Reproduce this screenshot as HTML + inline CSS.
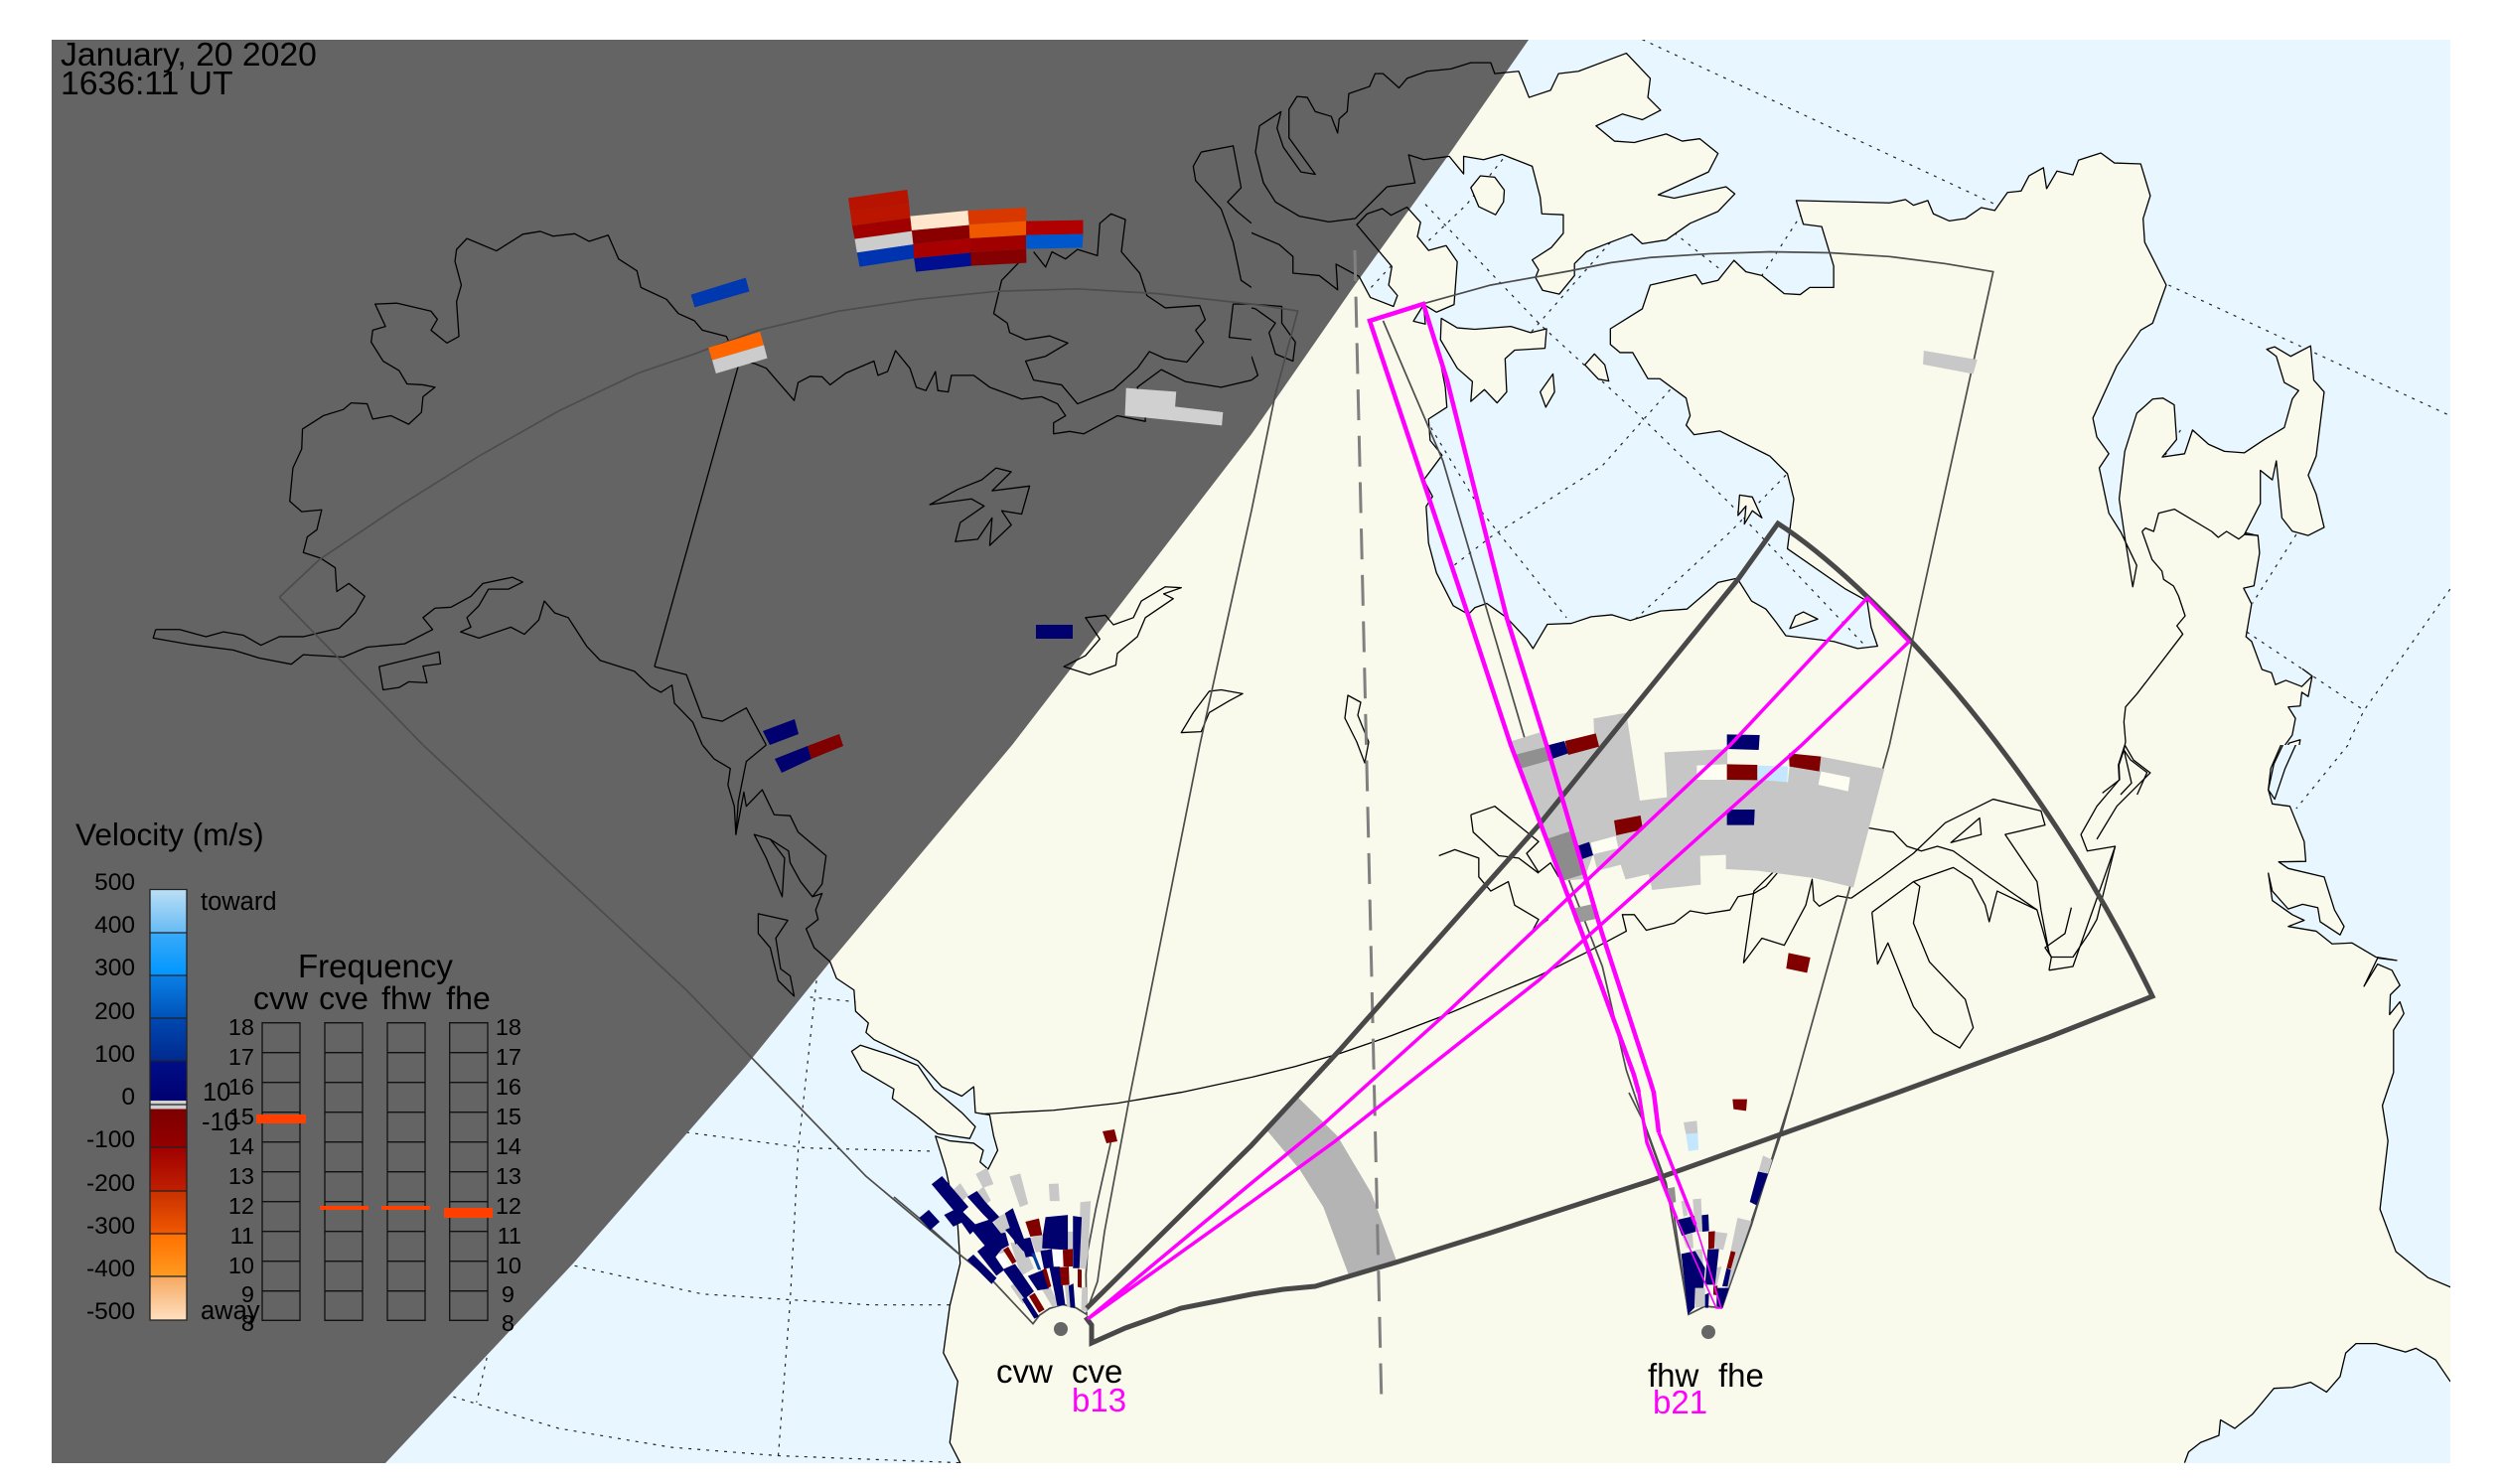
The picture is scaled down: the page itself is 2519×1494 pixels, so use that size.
<!DOCTYPE html>
<html><head><meta charset="utf-8"><title>SuperDARN map</title>
<style>
html,body{margin:0;padding:0;background:#fff}
svg{display:block}
polygon,polyline,path,line,rect{vector-effect:non-scaling-stroke}
text{font-family:"Liberation Sans",sans-serif}
.dot{fill:none;stroke:#222;stroke-width:1.2;stroke-dasharray:3 6}
.fov{fill:none;stroke:#4c4c4c;stroke-width:1.7}
.thin{fill:none;stroke:#000;stroke-width:1.3;stroke-linejoin:round}
.s{stroke:none}
</style></head><body>
<svg xmlns="http://www.w3.org/2000/svg" width="2519" height="1494" viewBox="0 0 2519 1494">
<defs>
<clipPath id="c1"><rect x="52" y="40" width="1208" height="710"/></clipPath>
<clipPath id="c2"><rect x="1260" y="40" width="1207" height="710"/></clipPath>
<clipPath id="c3"><rect x="52" y="750" width="1208" height="723"/></clipPath>
<clipPath id="c4"><rect x="1260" y="750" width="1207" height="723"/></clipPath>
<linearGradient id="g1" x1="0" y1="0" x2="0" y2="1"><stop offset="0" stop-color="#bcdff5"/><stop offset="1" stop-color="#66bbf5"/></linearGradient>
<linearGradient id="g2" x1="0" y1="0" x2="0" y2="1"><stop offset="0" stop-color="#3aaaf8"/><stop offset="1" stop-color="#0096ff"/></linearGradient>
<linearGradient id="g3" x1="0" y1="0" x2="0" y2="1"><stop offset="0" stop-color="#0a80e8"/><stop offset="1" stop-color="#0052b8"/></linearGradient>
<linearGradient id="g4" x1="0" y1="0" x2="0" y2="1"><stop offset="0" stop-color="#0048b0"/><stop offset="1" stop-color="#002a90"/></linearGradient>
<linearGradient id="g5" x1="0" y1="0" x2="0" y2="1"><stop offset="0" stop-color="#000f88"/><stop offset="1" stop-color="#000070"/></linearGradient>
<linearGradient id="g6" x1="0" y1="0" x2="0" y2="1"><stop offset="0" stop-color="#7c0000"/><stop offset="1" stop-color="#950000"/></linearGradient>
<linearGradient id="g7" x1="0" y1="0" x2="0" y2="1"><stop offset="0" stop-color="#a00000"/><stop offset="1" stop-color="#c02000"/></linearGradient>
<linearGradient id="g8" x1="0" y1="0" x2="0" y2="1"><stop offset="0" stop-color="#c83000"/><stop offset="1" stop-color="#f05800"/></linearGradient>
<linearGradient id="g9" x1="0" y1="0" x2="0" y2="1"><stop offset="0" stop-color="#ff7000"/><stop offset="1" stop-color="#ff9a20"/></linearGradient>
<linearGradient id="g10" x1="0" y1="0" x2="0" y2="1"><stop offset="0" stop-color="#f5a860"/><stop offset="1" stop-color="#ffe0c0"/></linearGradient>

<g id="q2land">
<polyline points="135,582 149,626 178,645 183,622 172,600 176,561 132,473 145,450 164,439 175,453 195,436 212,468 208,498 222,527 244,517 258,551 254,641 232,657 216,641 203,676 218,682 216,645 237,763 243,815 245,857 222,882 224,927 239,958 228,983 216,1010 227,1045 219,1066 222,1143 232,1206 253,1275 272,1293 280,1279 295,1270 320,1300 345,1345 353,1365 371,1314 401,1312 426,1298 452,1294 475,1306 513,1286 546,1282 585,1226 609,1217 627,1265 645,1282 658,1310 670,1338 730,1350 760,1365 785,1360 777,1320 772,1265 745,1240 672,1155 680,1050 672,997 650,960 587,907 555,915 545,895 550,875 545,838 512,797 497,797 478,742 462,742 450,725 450,692 490,650 500,600 557,578 565,598 585,590 605,548 620,572 640,580 668,618 688,620 700,605 730,605 730,560 715,477 692,472 683,422 800,427 820,420 830,432 848,422 855,450 875,465 895,460 915,437 932,443 948,405 965,402 975,370 993,353 997,397 1010,360 1030,368 1037,337 1065,322 1082,343 1115,345 1127,412 1118,460 1120,510 1147,600 1130,680 1115,695 1085,770 1055,880 1060,920 1075,955 1063,985 1075,1080 1090,1120 1110,1190 1105,1235 1095,1130 1088,1050 1095,950 1110,870 1130,840 1143,838 1157,852 1160,925 1142,962 1170,955 1180,905 1200,935 1220,950 1245,953 1270,925 1295,900 1305,840 1313,822 1295,805 1285,750 1273,735 1283,730 1303,750 1328,728 1332,800 1345,825 1335,960 1325,1000 1335,1040 1345,1110 1325,1127 1305,1118 1292,1090 1285,970 1280,1010 1265,990 1265,1060 1245,1125 1262,1127 1264,1164 1257,1233 1244,1238 1254,1271 1247,1340 1254,1350 1267,1409 1279,1416 1284,1441 1297,1432 1317,1445 1330,1423 1318,1408 1330,1423 1325,1466 1317,1457 1315,1486 1300,1488 1309,1512 1305,1547 1296,1568 1290,1700 -100,1700 -100,600"/>
<polygon points="335,150 348,205 375,190 385,155 410,150 470,112 500,165 497,205 513,232 490,252 465,240 432,265 455,297 480,300 520,282 540,297 562,292 585,323 573,362 510,410 530,417 595,393 606,408 585,445 550,470 520,505 490,513 477,493 450,510 420,530 405,555 405,580 386,619 365,611 356,584 360,568 352,547 376,521 391,491 391,452 364,450 362,415 352,350 314,325 291,336 266,329 266,366 248,329 216,336 197,326 205,385 170,393 130,460 97,467 60,455 30,425 15,385 5,320 10,265 37,235 32,270 40,310 62,362 80,367 47,290 47,230 57,203 70,205 80,235 100,245 108,280 110,250 120,235 122,197 148,182 155,155 165,155 185,185 195,165 220,150 250,145 275,132 300,132 305,155"/>
<polygon points="275,395 287,370 305,373 317,400 316,425 306,452 285,435"/>
<polygon points="238,670 258,690 280,693 325,687 350,700 370,692 368,733 330,737 318,755 320,825 308,848 292,820 275,845 277,803 258,775 237,715"/>
<polygon points="418,768 430,745 443,768 448,802 435,798"/>
<polygon points="362,825 378,787 380,825 369,857"/>
<polygon points="612,1042 628,1046 640,1090 628,1075 618,1103 620,1065 610,1085"/>
<polygon points="675,1323 682,1296 692,1288 710,1303"/>
<polygon points="1315,1557 1301,1564 1290,1600 1280,1700 1300,1700"/>
</g>
<g id="q4ocean">
<polyline points="1296,-20 1278,50 1275,95 1280,125 1302,130 1320,205 1322,247 1288,248 1300,262 1345,280 1358,350 1370,385 1365,403 1340,375 1337,345 1318,338 1300,348 1280,310 1275,272 1280,330 1305,360 1320,372 1300,385 1335,395 1355,422 1380,420 1410,450 1436,457 1412,452 1395,512 1412,465 1430,478 1440,510 1428,530 1427,572 1440,545 1445,570 1432,605 1432,695 1418,765 1425,840 1415,985 1435,1075 1475,1130 1503,1150 1650,1150 1650,-20"/>
<polyline points="1170,1523 1175,1500 1190,1480 1213,1465 1215,1432 1233,1450 1255,1420 1282,1365 1305,1363 1328,1352 1348,1373 1365,1340 1372,1290 1385,1270 1410,1270 1447,1288 1460,1280 1485,1305 1503,1350 1650,1350 1650,1650 1170,1650"/>
</g>
<g id="q3ocean">
<polyline points="1040,460 1048,495 1070,520 1072,565 1088,590 1085,610 1095,625 1150,670 1180,725 1205,745 1220,725 1222,780 1240,785 1245,830 1250,860 1238,900 1228,885 1232,860 1220,845 1190,840 1172,830 1185,900 1200,1020 1203,1100 1190,1190 1182,1290 1200,1350 1190,1480 1203,1523 1205,1700 -100,1700 -100,1000"/>
</g>
<polygon id="q3isl" points="1067,650 1078,637 1120,660 1150,680 1170,730 1205,780 1222,810 1215,835 1175,825 1150,790 1118,750 1120,730 1080,690"/>
</defs>

<rect x="52" y="40" width="2415" height="1433" fill="#f9faeb"/>

<!-- fills and dotted graticule -->
<g clip-path="url(#c2)"><rect x="1260" y="40" width="1207" height="710" fill="#e8f6ff"/>
<g transform="translate(1260,0) scale(.80293,.47832)">
<polyline class="dot" points="490,83 935,432"/>
<polyline class="dot" points="1150,600 1503,875"/>
<polyline class="dot" points="315,335 270,430 220,510"/>
<polyline class="dot" points="218,430 360,680 490,880 600,1060 770,1360"/>
<polyline class="dot" points="225,900 290,1080 395,1300"/>
<polyline class="dot" points="530,490 590,570"/>
<polyline class="dot" points="690,450 640,580"/>
<polyline class="dot" points="450,510 350,700"/>
<polyline class="dot" points="525,820 440,980 300,1130 250,1195"/>
<polyline class="dot" points="670,1000 600,1120 480,1305"/>
<polyline class="dot" points="1310,1125 1255,1270"/>
<polyline class="dot" points="1248,1330 1395,1495"/>
<polyline class="dot" points="1503,1240 1395,1495 1375,1565"/>
<polyline class="dot" points="1165,905 1145,960"/>
<polyline class="dot" points="150,605 175,560"/>
<use href="#q2land" fill="#f9faeb" stroke="none"/></g></g>
<g clip-path="url(#c4)"><g transform="translate(1260,750) scale(.80293,.47449)"><use href="#q4ocean" fill="#e8f6ff" stroke="none"/>
<polyline class="dot" points="1375,0 1310,135"/></g></g>
<g clip-path="url(#c3)"><g transform="translate(0,750) scale(.80357,.47449)"><use href="#q3ocean" fill="#e8f6ff" stroke="none"/><use href="#q3isl" fill="#f9faeb" stroke="none"/>
<polyline class="dot" points="1015,535 1072,545"/>
<polyline class="dot" points="1023,500 1000,860 990,1180 975,1510"/>
<polyline class="dot" points="860,822 1010,855 1170,862"/>
<polyline class="dot" points="720,1105 880,1165 1090,1188 1195,1188"/>
<polyline class="dot" points="568,1383 700,1450 840,1490 975,1508 1203,1523"/>
<polyline class="dot" points="610,1300 597,1395"/>
</g></g>

<!-- night -->
<polygon fill="#646464" points="52,40 1539,40 1457,158 1364,287 1260,437 1019,750 836,968 751,1073 577,1272 388,1473 52,1473"/>

<!-- coast strokes -->
<g clip-path="url(#c2)"><g transform="translate(1260,0) scale(.80293,.47832)">
<use href="#q2land" class="thin"/>
<polyline class="thin" points="0,490 35,515 52,540 52,575 85,580 108,610 106,556 135,582"/>
<polyline class="thin" points="0,640 38,645 38,680 55,720 52,760 30,745 22,700 30,680 5,650 0,648"/>
<polyline class="thin" points="0,750 8,790 0,800"/>
</g></g>
<g clip-path="url(#c1)"><g transform="scale(.80357,.47832)">
<polyline class="thin" points="195,1325 192,1343 240,1357 292,1368 325,1385 365,1398 380,1378 430,1383 460,1362 507,1355 542,1325 530,1300 545,1280 565,1278 590,1255 605,1228 642,1215 655,1225 637,1240 612,1240 600,1275 585,1300 590,1320 577,1330 600,1343 640,1320 657,1335 675,1305 682,1265 695,1290 712,1300 735,1360 752,1390 795,1413 815,1445 828,1457 842,1442 845,1480 868,1520 880,1568"/>
<polyline class="thin" points="195,1325 225,1325 258,1340 280,1330 305,1337 327,1358 350,1340 380,1340 425,1322 445,1290 457,1255 437,1228 422,1245 420,1195 402,1175 380,1163 385,1130 397,1115 403,1073 378,1077 363,1055 367,985 378,945 379,903 405,875 430,862 440,848 460,850 467,882 490,875 512,893 528,868 530,835 545,815 530,810 510,808 500,780 480,760 465,720 467,695 483,687 470,640 497,638 540,655 548,672 540,695 560,722 575,708 572,635 578,600 570,550 572,525 585,502 622,528 655,493 677,487 693,497 720,492 738,508 762,495 775,545 798,570 803,605 835,630 850,660 870,675 880,695 910,708 925,760 945,765 960,775 995,843 1000,805 1015,792 1030,793 1040,810 1060,785 1095,760 1100,790 1112,782 1122,738 1140,775 1148,815 1160,822 1172,782 1175,822 1188,825 1192,790 1220,790 1240,815 1280,840 1305,835 1325,850 1335,875 1320,890 1320,913 1340,908 1358,913 1400,875 1435,887 1435,870 1425,815 1455,778 1485,803 1530,815 1568,800"/>
<polyline class="thin" points="1278,550 1255,590 1245,660 1262,680 1265,700 1285,715 1315,707 1338,722 1310,750 1285,760 1295,800 1330,810 1350,850 1395,820 1425,775 1440,740 1460,755 1487,762 1508,720 1498,695 1510,673 1503,643 1460,648 1437,622 1428,575 1405,530 1410,462 1392,450 1378,470 1375,538 1350,525 1335,545 1318,530 1310,562 1295,530"/>
<polyline class="thin" points="1505,320 1495,350 1498,380 1530,440 1545,510 1555,590 1568,605"/>
<polyline class="thin" points="1505,320 1545,307 1555,395 1538,425 1550,445 1568,470"/>
<polyline class="thin" points="1568,640 1545,640 1540,710 1568,715"/>
<polygon class="thin" points="1165,1062 1200,1030 1230,1010 1248,985 1267,993 1243,1033 1290,1023 1280,1082 1255,1075 1267,1105 1240,1148 1243,1090 1225,1135 1197,1140 1203,1100 1233,1065 1217,1050"/>
<polygon class="thin" points="1360,1300 1385,1295 1395,1315 1420,1300 1430,1265 1460,1235 1480,1237 1458,1250 1470,1260 1435,1300 1425,1340 1400,1375 1398,1400 1365,1420 1333,1403 1360,1380 1378,1345"/>
<polygon class="thin" points="1515,1455 1530,1452 1557,1460 1540,1475 1515,1500 1505,1540 1480,1542 1495,1500"/>
<polygon class="thin" points="475,1403 550,1372 552,1397 530,1402 535,1437 512,1435 500,1447 480,1452"/>
<polyline class="thin" points="820,1403 860,1420 880,1510 905,1518 935,1490 960,1568"/>
<polyline class="thin" points="925,770 820,1403"/>
</g></g>
<polygon class="thin" points="1357,700 1370,707 1367,720 1378,747 1374,768 1366,747 1354,723"/>
<g transform="translate(2060,400) scale(.33333)">
<polyline class="thin" points="290,405 300,395 325,405 340,350 388,338 500,405 520,423 545,405 582,428 605,410 640,418"/>
<polyline class="thin" points="290,405 320,490 350,525 355,550 385,570 400,600 410,630 420,660 395,690 413,715 275,895 240,935 235,980 240,1040 235,1065"/>
<polyline class="thin" points="235,1065 220,1110 222,1155 170,1195"/>
<polyline class="thin" points="235,1065 255,1095 305,1133 275,1200"/>
<polyline class="thin" points="235,1065 258,1165 225,1200"/>
</g>
<g clip-path="url(#c3)"><g transform="translate(0,750) scale(.80357,.47449)">
<use href="#q3ocean" class="thin"/>
<use href="#q3isl" class="thin"/>
<polyline class="thin" points="880,0 895,30 915,50 912,85 920,130 922,190 932,100 935,130 955,95 970,148 990,150 1000,185 1035,235 1030,295 1018,322 1030,315 1022,350 1025,370 1010,390 1020,430 1040,460"/>
<polyline class="thin" points="965,200 988,225 990,250 1003,290 1018,322"/>
<polyline class="thin" points="965,200 945,190 960,240 980,322 983,240 965,200"/>
<polyline class="thin" points="960,0 935,35 925,120 922,190"/>
<polygon class="thin" points="950,358 987,372 972,410 978,475 990,490 995,533 975,500 965,430 950,400"/>
<polyline class="thin" points="1230,783 1320,775 1400,760 1480,737 1568,705"/>
</g></g>
<g clip-path="url(#c4)"><g transform="translate(1260,750) scale(.80293,.47449)">
<use href="#q4ocean" class="thin"/>
<polygon class="thin" points="1312,-10 1296,50 1283,115 1275,95 1282,40 1296,-10"/>
<polyline class="thin" points="0,705 55,682 110,655 175,617 240,575 300,532 360,490 420,440 470,395 465,360 480,360 495,393 530,378 550,352 570,358 600,350 610,322 630,315 645,300 660,270 650,250"/>
<polyline class="thin" points="660,260 630,310 617,462 640,410 668,425 695,340 703,285 705,330 712,342 735,320 752,325"/>
<polyline class="thin" points="275,148 305,130 360,205 345,230 360,270 375,250 385,280"/>
<polyline class="thin" points="275,148 278,185 310,235 335,240 360,272"/>
<polyline class="thin" points="235,235 255,222 285,240 285,280 300,310 322,290 330,340 360,370 352,395 372,370"/>
<polyline class="thin" points="770,175 805,185 822,215 840,225 860,215 880,225 925,280 985,350 1000,440"/>
<polyline class="thin" points="752,325 790,280 830,230 870,165 930,115 990,140 995,170 945,190 985,290 990,350 1000,440 1003,450 1030,450 1050,400 1060,370 1083,215 1048,225 1040,190 1060,130 1088,74 1087,42 1095,0"/>
<polyline class="thin" points="778,355 830,290 880,260 903,285 920,340 925,375 935,310 985,350"/>
<polyline class="thin" points="778,355 785,465 798,420 830,555 855,610 888,643 905,600 895,540 850,460 830,378 838,300 830,290"/>
<polygon class="thin" points="877,207 913,155 915,190"/>
<polyline class="thin" points="1095,0 1106,32 1127,59 1085,130 1060,200"/>
<polyline class="thin" points="1000,478 1030,470 1083,215"/>
<polyline class="thin" points="1000,478 1003,450"/>
<polyline class="thin" points="1028,345 1020,400 995,430 1003,450"/>
</g></g>

<!-- main FOV thin lines -->
<g clip-path="url(#c1)"><g transform="scale(.80357,.47832)"><polyline class="fov" points="350,1257 400,1178 500,1065 600,960 700,865 800,785 870,745 950,695 1050,655 1150,630 1250,613 1350,608 1450,618 1568,640"/><polyline class="fov" points="350,1257 530,1568"/></g></g>
<polyline class="fov" points="1260,306 1306.6,313 1284,397 1260,514 1208,750 1137,1106 1112,1240 1105,1290 1094,1320"/>
<g clip-path="url(#c3)"><g transform="translate(0,750) scale(.80357,.47449)"><polyline class="fov" points="530,0 860,520 1085,915 1205,1085"/></g></g>
<g clip-path="url(#c2)"><g transform="translate(1260,0) scale(.80293,.47832)">
<polyline class="fov" points="218,638 300,600 400,570 450,553 500,542 575,534 650,530 725,532 800,540 870,555 930,572 800,1568"/>
<polyline class="fov" points="165,675 240,970 345,1568"/>
<polygon fill="#c8c8c8" points="843,738 910,757 905,787 842,767"/>
</g></g>
<g clip-path="url(#c4)"><g transform="translate(1260,750) scale(.80293,.47449)">
<polyline class="fov" points="800,0 665,820 590,1195"/>
<polyline class="fov" points="350,0 385,230 440,470 470,690 490,790 520,930 548,1205"/>
</g></g>

<!-- data blocks on night side -->
<g transform="translate(660,170) scale(.38265,.33333)">
<polygon fill="#b81200" points="507,88 662,63 667,105 512,128"/>
<polygon fill="#bb1500" points="512,128 667,105 670,148 517,172"/>
<polygon fill="#a00000" points="517,172 670,148 675,188 524,212"/>
<polygon fill="#cccccc" points="524,212 675,188 680,228 530,253"/>
<polygon fill="#0033b0" points="530,253 680,228 682,270 537,296"/>
<polygon fill="#ffe6cc" points="670,143 822,126 825,170 674,186"/>
<polygon fill="#8a0000" points="674,186 825,170 827,210 678,228"/>
<polygon fill="#a80000" points="678,228 827,210 830,253 680,270"/>
<polygon fill="#000f90" points="680,270 830,253 832,293 685,311"/>
<polygon fill="#d83800" points="822,126 975,117 975,158 825,168"/>
<polygon fill="#f05800" points="825,168 975,158 975,200 827,210"/>
<polygon fill="#a00000" points="827,210 975,200 975,242 829,252"/>
<polygon fill="#850000" points="829,252 975,242 976,284 830,293"/>
<polygon fill="#b00000" points="975,158 1125,155 1125,197 975,200"/>
<polygon fill="#0057cc" points="975,200 1125,197 1123,238 975,242"/>
<polygon fill="#0038b0" points="93,380 237,329 247,370 103,418"/>
<polygon fill="#ff6600" points="139,540 275,492 285,532 149,578"/>
<polygon fill="#cccccc" points="149,578 285,532 294,572 159,618"/>
<polygon fill="#d0d0d0" points="1238,662 1370,673 1367,718 1493,735 1490,775 1235,745"/>
</g>
<polygon fill="#00006e" points="1043,629 1080,629 1080,643 1043,643"/>
<polygon fill="#00006e" points="768,736 800,724 804,739 775,750"/>
<polygon fill="#00006e" points="780,764 813,751 817,764 787,778"/>
<polygon fill="#800000" points="813,751 845,739 849,751 817,764"/>

<!-- cv fan -->
<g transform="translate(900,1150) scale(.33333)">
<polyline class="fov" points="0,165 80,232 200,340 300,420 420,548 440,522 470,502 510,490 550,500 582,520 580,400 585,330 610,200 655,0"/>
<g fill="#c8c8c8" stroke="#c8c8c8" stroke-width="1.5">
<polygon points="250,97 280,80 298,125 270,135"/><polygon points="352,105 380,97 403,185 382,193"/><polygon points="470,128 495,127 498,175 473,175"/><polygon points="565,183 592,180 585,330 562,330"/><polygon points="175,150 200,127 222,160 200,180"/><polygon points="248,155 270,137 290,175 270,190"/><polygon points="300,235 340,215 355,260 325,275"/><polygon points="415,290 450,280 458,325 430,330"/><polygon points="523,272 545,272 545,322 525,322"/><polygon points="560,330 585,330 578,380 560,378"/><polygon points="355,305 390,310 420,380 385,400"/><polygon points="295,300 315,290 335,330 320,335"/><polygon points="355,435 368,425 405,480 390,485"/><polygon points="570,440 580,440 582,510 568,505"/><polygon points="450,445 470,437 495,492 480,495"/><polygon points="518,432 530,432 535,495 525,495"/>
</g>
<polygon fill="#fff" points="478,325 510,325 512,373 480,373"/>
<polygon fill="#fff" points="300,345 325,335 350,375 330,395"/>
<g fill="#00006e" stroke="#00006e" stroke-width="1.5">
<polygon points="117,127 145,105 222,195 195,220"/><polygon points="155,220 195,200 250,255 230,275 205,240 180,252"/><polygon points="80,228 105,207 135,240 110,262"/><polygon points="225,165 250,150 275,182 315,225 295,240 270,215"/><polygon points="230,255 290,235 340,300 305,345 255,285"/><polygon points="255,330 280,310 330,385 310,400"/><polygon points="225,355 240,342 307,410 295,425"/><polygon points="338,215 358,202 390,290 368,305"/><polygon points="340,265 365,255 420,345 390,325"/><polygon points="460,228 523,222 523,323 450,318 452,280"/><polygon points="543,225 565,228 558,378 543,378"/><polygon points="445,330 475,325 480,375 455,380"/><polygon points="332,385 365,370 420,450 395,470"/><polygon points="408,405 450,388 465,440 435,445"/><polygon points="390,475 400,470 435,525 425,530"/><polygon points="385,295 410,290 425,340 400,345"/><polygon points="472,378 500,378 515,490 495,492"/><polygon points="530,435 540,430 545,497 535,497"/><polygon points="310,280 335,275 345,310 325,320"/>
</g>
<polygon fill="#0040a0" points="415,335 425,335 445,385 435,385"/>
<g fill="#800000">
<polygon points="397,240 438,230 448,280 412,285"/><polygon points="510,325 540,322 540,375 512,375"/><polygon points="500,378 528,375 530,430 505,432"/><polygon points="555,382 567,385 567,440 555,437"/><polygon points="448,385 460,380 475,435 465,440"/><polygon points="330,325 345,315 370,360 358,368"/><polygon points="408,465 425,455 455,505 438,515"/>
</g>
</g>
<polygon fill="#800000" points="1110,1139 1122,1137 1125,1149 1114,1151"/>

<!-- grey patch -->
<g transform="translate(1480,680) scale(.33333)">
<polygon fill="#c6c6c6" points="120,200 218,170 240,215 375,180 373,130 472,113 513,378 595,368 587,232 778,222 776,315 870,310 960,322 965,275 1060,245 1252,282 1158,640 1040,612 870,590 773,585 773,542 695,545 697,632 550,648 540,600 470,616 455,572 385,590 372,540 345,615 280,620 225,495 145,280"/>
<polygon fill="#fdfdf2" points="685,272 776,268 776,315 685,315"/>
<polygon fill="#fdfdf2" points="1060,290 1148,308 1142,350 1052,330"/>
<polygon fill="#fdfdf2" points="365,505 440,485 448,522 372,540"/>
<polygon fill="#909090" points="135,240 232,215 245,255 150,282"/>
<polygon fill="#8c8c8c" points="228,495 305,470 345,600 280,620"/>
<polygon fill="#999" points="305,705 372,690 382,735 318,748"/>
<g fill="#00006e"><polygon points="232,212 285,198 297,235 245,253"/><polygon points="325,515 360,503 372,543 338,555"/><polygon points="776,178 875,180 872,225 776,222"/><polygon points="776,405 860,405 858,452 776,452"/></g>
<g fill="#800000"><polygon points="287,198 380,175 390,215 297,240"/><polygon points="435,438 515,423 522,465 442,483"/><polygon points="776,268 868,270 868,316 776,315"/><polygon points="963,235 1060,245 1055,290 965,275"/><polygon points="962,838 1028,852 1018,898 955,885"/></g>
<polygon fill="#c4e6ff" points="868,272 960,275 958,322 868,315"/>
</g>

<!-- fh fan -->
<g transform="translate(1600,1100) scale(.33333)">
<polyline class="fov" points="120,0 160,80 250,330 300,670 350,645 400,650 490,400 570,140 615,0"/>
<g fill="#c8c8c8">
<polygon points="512,237 525,190 553,203 540,245"/><polygon points="428,475 448,378 490,388 420,590 410,590 428,535"/><polygon points="380,420 418,425 405,475 380,470"/><polygon points="313,322 338,320 342,420 320,420"/><polygon points="278,328 290,325 298,370 285,375"/><polygon points="380,530 400,525 385,585 375,580"/><polygon points="320,475 342,472 345,530 330,525"/><polygon points="320,590 350,590 350,645 320,650"/><polygon points="280,432 312,425 315,470 295,470"/><polygon points="285,90 325,85 328,125 292,125"/>
</g>
<polygon fill="#909090" points="235,290 258,285 262,330 245,335"/>
<polygon fill="#c4e6ff" points="292,125 328,122 330,172 300,177"/>
<g fill="#00006e">
<polygon points="262,385 318,372 322,420 280,432"/><polygon points="340,370 360,368 362,418 342,420"/><polygon points="278,487 320,478 350,530 345,590 320,590 318,650 298,670 290,590"/><polygon points="358,473 392,472 380,580 350,580"/><polygon points="485,330 510,238 540,245 505,340"/><polygon points="385,590 422,590 402,650 385,645"/><polygon points="350,610 362,605 360,650 350,650"/><polygon points="402,585 415,530 428,535 418,585"/>
</g>
<g fill="#800000">
<polygon points="360,420 380,418 378,470 360,472"/><polygon points="415,530 428,478 442,482 428,533"/><polygon points="375,585 388,583 385,612 375,610"/><polygon points="433,20 477,20 474,55 436,50"/>
</g>
</g>

<!-- grey band on thick fov -->
<g transform="translate(1260,750) scale(.80293,.47449)"><polygon fill="#b4b4b4" points="58,747 108,830 150,950 182,1095 122,1125 90,980 60,900 18,815"/></g>

<!-- dashed vertical -->
<polyline fill="none" stroke="#808080" stroke-width="3" stroke-dasharray="31 15.7" points="1364,252 1391,1416"/>

<!-- thick FOV -->
<path fill="none" stroke="#484848" stroke-width="5" d="M1094,1317 L1260,1153 1348,1058 1549,831 1637,722 1750,583 1790,527 C1880,585 2050,760 2167,1003 L2063,1044 1902,1103 1661,1189 1501,1241 1405,1271 1324,1295 1292,1298 1260,1303 1189,1317 1133,1337 1099,1352 1099,1334 1093,1326"/>

<!-- magenta beams -->
<g fill="none" stroke="#ff00ff" stroke-linejoin="miter">
<polyline stroke-width="3.5" points="1095,1328 1260,1191 1332,1132 1453,1023 1742,750 1880,602 1922,646 1814,750 1549,987 1344,1149 1260,1210 1095,1328"/>
<polyline stroke-width="4.5" points="1650,1100 1645,1082 1593,940 1521,750 1479,622 1379,323 1433,306 1457,383 1517,622 1557,750 1613,940 1661,1087 1665,1100 1670,1140"/>
<polyline stroke-width="3.5" points="1650,1100 1658,1150 1688,1227"/>
<polyline stroke-width="3.5" points="1670,1140 1707,1233"/>
<polyline stroke-width="1.6" points="1688,1227 1728,1317 1733,1317 1707,1233"/>
</g>

<!-- radar dots -->
<circle cx="1068" cy="1338" r="7" fill="#666"/>
<circle cx="1720" cy="1341" r="7" fill="#666"/>

<!-- labels -->
<g font-size="33">
<text x="1003" y="1392">cvw</text><text x="1079" y="1392">cve</text>
<text x="1079" y="1421" fill="#ff00ff">b13</text>
<text x="1659" y="1396">fhw</text><text x="1730" y="1396">fhe</text>
<text x="1664" y="1423" fill="#ff00ff">b21</text>
<text x="61" y="66" font-size="33.7">January, 20 2020</text>
<text x="61" y="95" font-size="33.7">1636:11 UT</text>
<text x="76" y="851" font-size="31.6">Velocity (m/s)</text>
<text x="300" y="984" font-size="33">Frequency</text>
</g>

<!-- colour bar -->
<g stroke="none">
<rect x="151" y="895.5" width="37" height="43.5" fill="url(#g1)"/>
<rect x="151" y="939" width="37" height="43" fill="url(#g2)"/>
<rect x="151" y="982" width="37" height="43" fill="url(#g3)"/>
<rect x="151" y="1025" width="37" height="43" fill="url(#g4)"/>
<rect x="151" y="1068" width="37" height="40" fill="url(#g5)"/>
<rect x="151" y="1108" width="37" height="8.5" fill="#cfcfcf"/>
<rect x="151" y="1116.5" width="37" height="38.5" fill="url(#g6)"/>
<rect x="151" y="1155" width="37" height="44" fill="url(#g7)"/>
<rect x="151" y="1199" width="37" height="43" fill="url(#g8)"/>
<rect x="151" y="1242" width="37" height="43" fill="url(#g9)"/>
<rect x="151" y="1285" width="37" height="44" fill="url(#g10)"/>
</g>
<g fill="none" stroke="#222" stroke-width="1.3">
<rect x="151" y="895.5" width="37" height="433.5"/>
<line x1="151" x2="188" y1="939" y2="939"/><line x1="151" x2="188" y1="982" y2="982"/><line x1="151" x2="188" y1="1025" y2="1025"/><line x1="151" x2="188" y1="1068" y2="1068"/><line x1="151" x2="188" y1="1112" y2="1112"/><line x1="151" x2="188" y1="1155" y2="1155"/><line x1="151" x2="188" y1="1199" y2="1199"/><line x1="151" x2="188" y1="1242" y2="1242"/><line x1="151" x2="188" y1="1285" y2="1285"/>
</g>
<g font-size="24.5" text-anchor="end">
<text x="136" y="896">500</text><text x="136" y="939">400</text><text x="136" y="982">300</text><text x="136" y="1026">200</text><text x="136" y="1069">100</text><text x="136" y="1112">0</text><text x="136" y="1155">-100</text><text x="136" y="1199">-200</text><text x="136" y="1242">-300</text><text x="136" y="1285">-400</text><text x="136" y="1328">-500</text>
</g>
<g font-size="25.5">
<text x="202" y="916">toward</text><text x="202" y="1328">away</text><text x="204" y="1108">10</text><text x="203" y="1138">-10</text>
</g>

<!-- frequency -->
<g font-size="32" text-anchor="middle">
<text x="282.5" y="1016">cvw</text><text x="346" y="1016">cve</text><text x="409" y="1016">fhw</text><text x="471.5" y="1016">fhe</text>
</g>
<g fill="none" stroke="#111" stroke-width="1.3">
<rect x="264" y="1029.7" width="38" height="299.6"/><rect x="327" y="1029.7" width="38" height="299.6"/><rect x="390" y="1029.7" width="38" height="299.6"/><rect x="452.7" y="1029.7" width="38.3" height="299.6"/>
<path d="M264 1059.7H302M264 1089.7H302M264 1119.7H302M264 1149.7H302M264 1179.7H302M264 1209.7H302M264 1239.7H302M264 1269.7H302M264 1299.7H302M327 1059.7H365M327 1089.7H365M327 1119.7H365M327 1149.7H365M327 1179.7H365M327 1209.7H365M327 1239.7H365M327 1269.7H365M327 1299.7H365M390 1059.7H428M390 1089.7H428M390 1119.7H428M390 1149.7H428M390 1179.7H428M390 1209.7H428M390 1239.7H428M390 1269.7H428M390 1299.7H428M453 1059.7H491M453 1089.7H491M453 1119.7H491M453 1149.7H491M453 1179.7H491M453 1209.7H491M453 1239.7H491M453 1269.7H491M453 1299.7H491"/>
</g>
<g fill="#ff4000" stroke="none">
<rect x="258" y="1122" width="50" height="9"/>
<rect x="322" y="1214" width="49" height="4"/>
<rect x="384" y="1214" width="49" height="4"/>
<rect x="447" y="1216" width="49" height="10"/>
</g>
<g font-size="23.5" text-anchor="end">
<text x="256" y="1042">18</text><text x="256" y="1072">17</text><text x="256" y="1102">16</text><text x="256" y="1132">15</text><text x="256" y="1162">14</text><text x="256" y="1192">13</text><text x="256" y="1222">12</text><text x="256" y="1252">11</text><text x="256" y="1282">10</text><text x="256" y="1311">9</text><text x="256" y="1340">8</text>
<text x="525" y="1042">18</text><text x="525" y="1072">17</text><text x="525" y="1102">16</text><text x="525" y="1132">15</text><text x="525" y="1162">14</text><text x="525" y="1192">13</text><text x="525" y="1222">12</text><text x="525" y="1252">11</text><text x="525" y="1282">10</text><text x="518" y="1311">9</text><text x="518" y="1340">8</text>
</g>
</svg>
</body></html>
